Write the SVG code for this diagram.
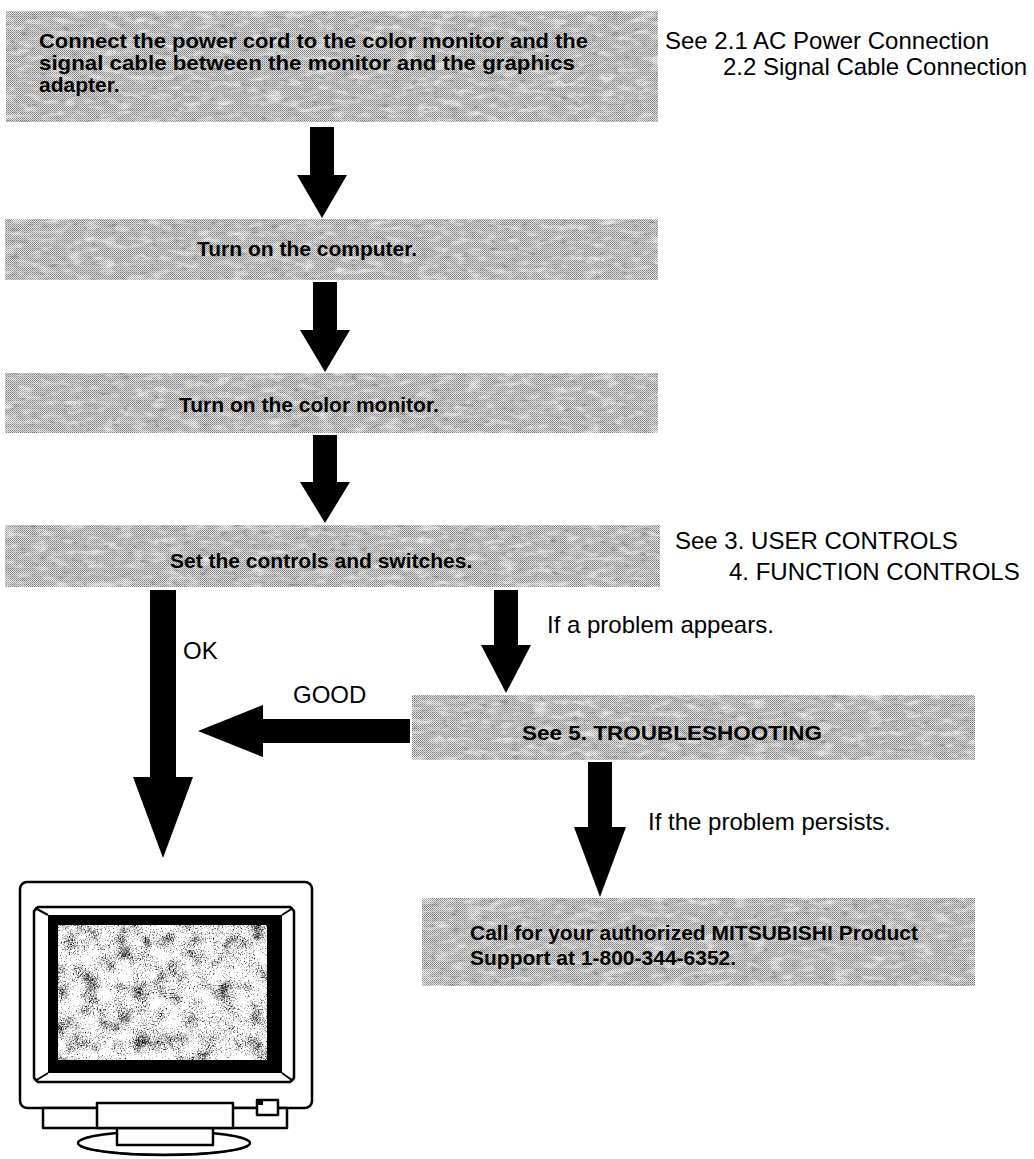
<svg xmlns="http://www.w3.org/2000/svg" width="1034" height="1159" viewBox="0 0 1034 1159">
  <defs>
    <style>
      .box { fill: url(#halftone); }
      .step { font-family: "Liberation Sans", Arial, Helvetica, sans-serif; font-weight: bold; font-size: 21px; fill: #000; }
      .note { font-family: "Liberation Sans", Arial, Helvetica, sans-serif; font-size: 24px; fill: #000; }
      .arrow { fill: #000; }
      .line { fill: #fff; stroke: #000; stroke-width: 2.5; stroke-linejoin: round; }
    </style>
    <!-- printed halftone grey -->
    <pattern id="halftone" width="2" height="2" patternUnits="userSpaceOnUse">
      <rect width="2" height="2" fill="#e6e6e6"/>
      <rect x="0" y="0" width="1" height="1" fill="#717171"/>
      <rect x="1" y="1" width="1" height="1" fill="#989898"/>
    </pattern>
    <!-- lighter and darker patches over the halftone -->
    <filter id="light" x="0" y="0" width="1" height="1" color-interpolation-filters="sRGB">
      <feTurbulence type="fractalNoise" baseFrequency="0.06 0.16" numOctaves="3" seed="5"/>
      <feColorMatrix type="matrix" values="0 0 0 0 1  0 0 0 0 1  0 0 0 0 1  -1.6 0 0 0 0.85"/>
      <feComposite in2="SourceGraphic" operator="in"/>
    </filter>
    <filter id="dark" x="0" y="0" width="1" height="1" color-interpolation-filters="sRGB">
      <feTurbulence type="fractalNoise" baseFrequency="0.1 0.25" numOctaves="2" seed="17"/>
      <feColorMatrix type="matrix" values="0 0 0 0 0.25  0 0 0 0 0.25  0 0 0 0 0.25  1.2 0 0 0 -0.75"/>
      <feComposite in2="SourceGraphic" operator="in"/>
    </filter>
    <!-- grainy picture on the screen -->
    <filter id="speckle" x="0" y="0" width="1" height="1" color-interpolation-filters="sRGB">
      <feTurbulence type="fractalNoise" baseFrequency="0.75" numOctaves="2" seed="9" result="fine"/>
      <feTurbulence type="fractalNoise" baseFrequency="0.06" numOctaves="2" seed="21" result="coarse"/>
      <feComposite in="fine" in2="coarse" operator="arithmetic" k2="0.7" k3="0.5" k4="-0.1" result="mix"/>
      <feColorMatrix in="mix" type="matrix" values="0 0 0 0 0  0 0 0 0 0  0 0 0 0 0  3.4 0 0 0 -1.35"/>
      <feComposite in2="SourceGraphic" operator="in"/>
    </filter>
  </defs>

  <rect width="1034" height="1159" fill="#fff"/>

  <!-- connectors -->
  <g id="connectors">
    <polygon class="arrow" points="310,127 334,127 334,175 347,175 322,218 297,175 310,175"/>
    <polygon class="arrow" points="313,282 337,282 337,330 350,330 325,372 300,330 313,330"/>
    <polygon class="arrow" points="313,435 337,435 337,482 350,482 325,523 300,482 313,482"/>
    <!-- OK: down to the monitor -->
    <polygon class="arrow" points="150,590 176,590 176,777 193,777 163,858 133,777 150,777"/>
    <!-- problem appears -->
    <polygon class="arrow" points="494,590 518,590 518,645 531,645 506,693 481,645 494,645"/>
    <!-- GOOD: back to the left -->
    <polygon class="arrow" points="410,719 410,743 263,743 263,757 198,731 263,705 263,719"/>
    <!-- problem persists -->
    <polygon class="arrow" points="588,762 612,762 612,827 626,827 600,897 574,827 588,827"/>
  </g>

  <g id="step-connect">
    <rect class="box" x="6" y="11" width="652" height="111"/>
    <rect x="6" y="11" width="652" height="111" filter="url(#light)"/>
    <rect x="6" y="11" width="652" height="111" filter="url(#dark)"/>
    <text class="step" x="39" y="48" textLength="549" lengthAdjust="spacingAndGlyphs">Connect the power cord to the color monitor and the</text>
    <text class="step" x="39" y="70" textLength="536" lengthAdjust="spacingAndGlyphs">signal cable between the monitor and the graphics</text>
    <text class="step" x="39" y="92">adapter.</text>
  </g>
  <g id="note-connect">
    <text class="note" x="665" y="49">See 2.1 AC Power Connection</text>
    <text class="note" x="723" y="75">2.2 Signal Cable Connection</text>
  </g>

  <g id="step-computer">
    <rect class="box" x="5" y="219" width="653" height="61"/>
    <rect x="5" y="219" width="653" height="61" filter="url(#light)"/>
    <rect x="5" y="219" width="653" height="61" filter="url(#dark)"/>
    <text class="step" x="197" y="256">Turn on the computer.</text>
  </g>

  <g id="step-monitor">
    <rect class="box" x="5" y="373" width="653" height="60"/>
    <rect x="5" y="373" width="653" height="60" filter="url(#light)"/>
    <rect x="5" y="373" width="653" height="60" filter="url(#dark)"/>
    <text class="step" x="179" y="412">Turn on the color monitor.</text>
  </g>

  <g id="step-controls">
    <rect class="box" x="5" y="525" width="655" height="62"/>
    <rect x="5" y="525" width="655" height="62" filter="url(#light)"/>
    <rect x="5" y="525" width="655" height="62" filter="url(#dark)"/>
    <text class="step" x="170" y="568">Set the controls and switches.</text>
  </g>
  <g id="note-controls">
    <text class="note" x="675" y="549">See 3. USER CONTROLS</text>
    <text class="note" x="729" y="580">4. FUNCTION CONTROLS</text>
  </g>

  <g id="labels">
    <text class="note" x="183" y="659">OK</text>
    <text class="note" x="293" y="703">GOOD</text>
    <text class="note" x="547" y="633">If a problem appears.</text>
    <text class="note" x="648" y="830">If the problem persists.</text>
  </g>

  <g id="step-troubleshooting">
    <rect class="box" x="412" y="695" width="563" height="65"/>
    <rect x="412" y="695" width="563" height="65" filter="url(#light)"/>
    <rect x="412" y="695" width="563" height="65" filter="url(#dark)"/>
    <text class="step" x="522" y="740" textLength="300" lengthAdjust="spacingAndGlyphs">See 5. TROUBLESHOOTING</text>
  </g>

  <g id="step-support">
    <rect class="box" x="422" y="898" width="553" height="88"/>
    <rect x="422" y="898" width="553" height="88" filter="url(#light)"/>
    <rect x="422" y="898" width="553" height="88" filter="url(#dark)"/>
    <text class="step" x="470" y="940">Call for your authorized MITSUBISHI Product</text>
    <text class="step" x="470" y="965">Support at 1-800-344-6352.</text>
  </g>

  <!-- the colour monitor -->
  <g id="monitor">
    <ellipse class="line" cx="164" cy="1143" rx="86" ry="12"/>
    <path d="M80,1146 A86,11 0 0 0 248,1146" fill="none" stroke="#000" stroke-width="2"/>
    <rect class="line" x="117" y="1126" width="96" height="19"/>
    <rect class="line" x="20" y="882" width="292" height="226" rx="7"/>
    <path class="line" d="M38,907 H290 L294,911 V1078 L290,1082 H38 L34,1078 V911 Z"/>
    <rect x="48" y="915" width="234" height="158" fill="#000"/>
    <path d="M35,908 L48,915 M293,908 L282,915 M35,1081 L48,1073 M293,1081 L282,1073" stroke="#000" stroke-width="2"/>
    <rect x="58" y="925" width="209" height="135" fill="#fff"/>
    <rect x="58" y="925" width="209" height="135" fill="#000" filter="url(#speckle)"/>
    <rect class="line" x="43" y="1108" width="244" height="20"/>
    <rect class="line" x="97" y="1103" width="136" height="25"/>
    <rect class="line" x="257" y="1100" width="21" height="15"/>
    <rect x="257" y="1100" width="6" height="5" fill="#000"/>
  </g>
</svg>
